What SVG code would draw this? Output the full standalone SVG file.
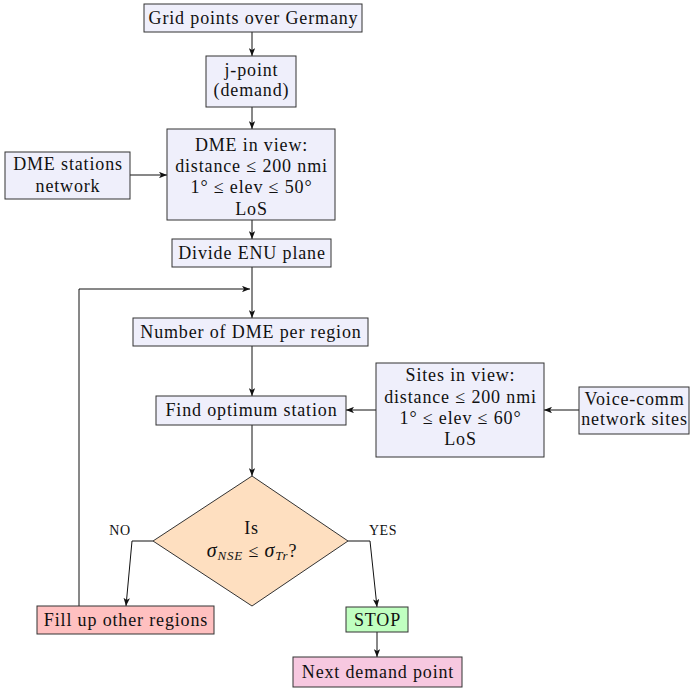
<svg xmlns="http://www.w3.org/2000/svg" width="692" height="688" viewBox="0 0 692 688">
<style>
.b{fill:#EFEFFB;stroke:#333;stroke-width:1}
.t{font-family:"Liberation Serif","Times New Roman",serif;font-size:18px;letter-spacing:0.85px;fill:#111;text-anchor:middle}
.s{font-family:"Liberation Serif","Times New Roman",serif;font-size:14px;letter-spacing:0.6px;fill:#111;text-anchor:middle}
.c{fill:none;stroke:#111;stroke-width:1}
</style>
<defs>
<marker id="a" viewBox="0 0 10 8" refX="10" refY="4" markerWidth="8" markerHeight="6.4" orient="auto" markerUnits="userSpaceOnUse">
<path d="M0,0 L10,4 L0,8 L2.5,4 z" fill="#111"/>
</marker>
</defs>
<g id="connectors">
<path class="c" d="M252,32 V56" marker-end="url(#a)"/>
<path class="c" d="M252,107 V129" marker-end="url(#a)"/>
<path class="c" d="M130,175 H167" marker-end="url(#a)"/>
<path class="c" d="M252,220 V239" marker-end="url(#a)"/>
<path class="c" d="M252,267 V318" marker-end="url(#a)"/>
<path class="c" d="M79,606 V289 H250" marker-end="url(#a)"/>
<path class="c" d="M252,346 V396" marker-end="url(#a)"/>
<path class="c" d="M376,410 H346" marker-end="url(#a)"/>
<path class="c" d="M579,410 H544" marker-end="url(#a)"/>
<path class="c" d="M252,425 V476" marker-end="url(#a)"/>
<path class="c" d="M153,541 H132 L126,606" marker-end="url(#a)"/>
<path class="c" d="M348,541 H370 L377,607" marker-end="url(#a)"/>
<path class="c" d="M377,632 V657" marker-end="url(#a)"/>
</g>
<g id="grid"><rect class="b" x="144" y="4" width="218" height="28"/><text class="t" x="253.5" y="24">Grid points over Germany</text></g>
<g id="jpoint"><rect class="b" x="206" y="56" width="90" height="51"/><text class="t" x="251.5" y="76">j-point</text><text class="t" x="251.5" y="96">(demand)</text></g>
<g id="dmestations"><rect class="b" x="5" y="152" width="125" height="47"/><text class="t" x="68" y="170">DME stations</text><text class="t" x="68" y="192">network</text></g>
<g id="dmeinview"><rect class="b" x="167" y="129" width="168" height="91"/><text class="t" x="251.5" y="151">DME in view:</text><text class="t" x="251.5" y="172">distance ≤ 200 nmi</text><text class="t" x="251.5" y="193">1° ≤ elev ≤ 50°</text><text class="t" x="251.5" y="215">LoS</text></g>
<g id="divide"><rect class="b" x="172" y="239" width="159" height="28"/><text class="t" x="252" y="259">Divide ENU plane</text></g>
<g id="number"><rect class="b" x="133" y="318" width="235" height="28"/><text class="t" x="251" y="338">Number of DME per region</text></g>
<g id="find"><rect class="b" x="156" y="396" width="190" height="29"/><text class="t" x="251.5" y="416">Find optimum station</text></g>
<g id="sites"><rect class="b" x="376" y="363" width="168" height="94"/><text class="t" x="460.5" y="381">Sites in view:</text><text class="t" x="460.5" y="403">distance ≤ 200 nmi</text><text class="t" x="460.5" y="424">1° ≤ elev ≤ 60°</text><text class="t" x="460.5" y="445">LoS</text></g>
<g id="voice"><rect class="b" x="579" y="387" width="110" height="47"/><text class="t" x="634.5" y="405">Voice-comm</text><text class="t" x="634.5" y="425">network sites</text></g>
<g id="decision"><polygon points="252,476 348,541 252,606 153,541" fill="#FEDFC0" stroke="#333" stroke-width="1"/><text class="t" x="251.5" y="534">Is</text><text class="t" x="252" y="557" letter-spacing="2"><tspan font-style="italic" font-size="20">σ</tspan><tspan font-style="italic" font-size="13" dy="3">NSE</tspan><tspan dy="-3"> ≤ </tspan><tspan font-style="italic" font-size="20">σ</tspan><tspan font-style="italic" font-size="13" dy="3">Tr</tspan><tspan dy="-3">?</tspan></text></g>
<g id="nolabel"><text class="s" x="120" y="535">NO</text></g>
<g id="yeslabel"><text class="s" x="383" y="535">YES</text></g>
<g id="fill"><rect x="37" y="606" width="177" height="28" fill="#FFC0C0" stroke="#333" stroke-width="1"/><text class="t" x="126" y="626">Fill up other regions</text></g>
<g id="stop"><rect x="346" y="607" width="62" height="25" fill="#C0FFC0" stroke="#333" stroke-width="1"/><text class="t" x="377.5" y="626">STOP</text></g>
<g id="next"><rect x="293" y="657" width="169" height="30" fill="#F7C8E0" stroke="#333" stroke-width="1"/><text class="t" x="378" y="678">Next demand point</text></g>
</svg>
